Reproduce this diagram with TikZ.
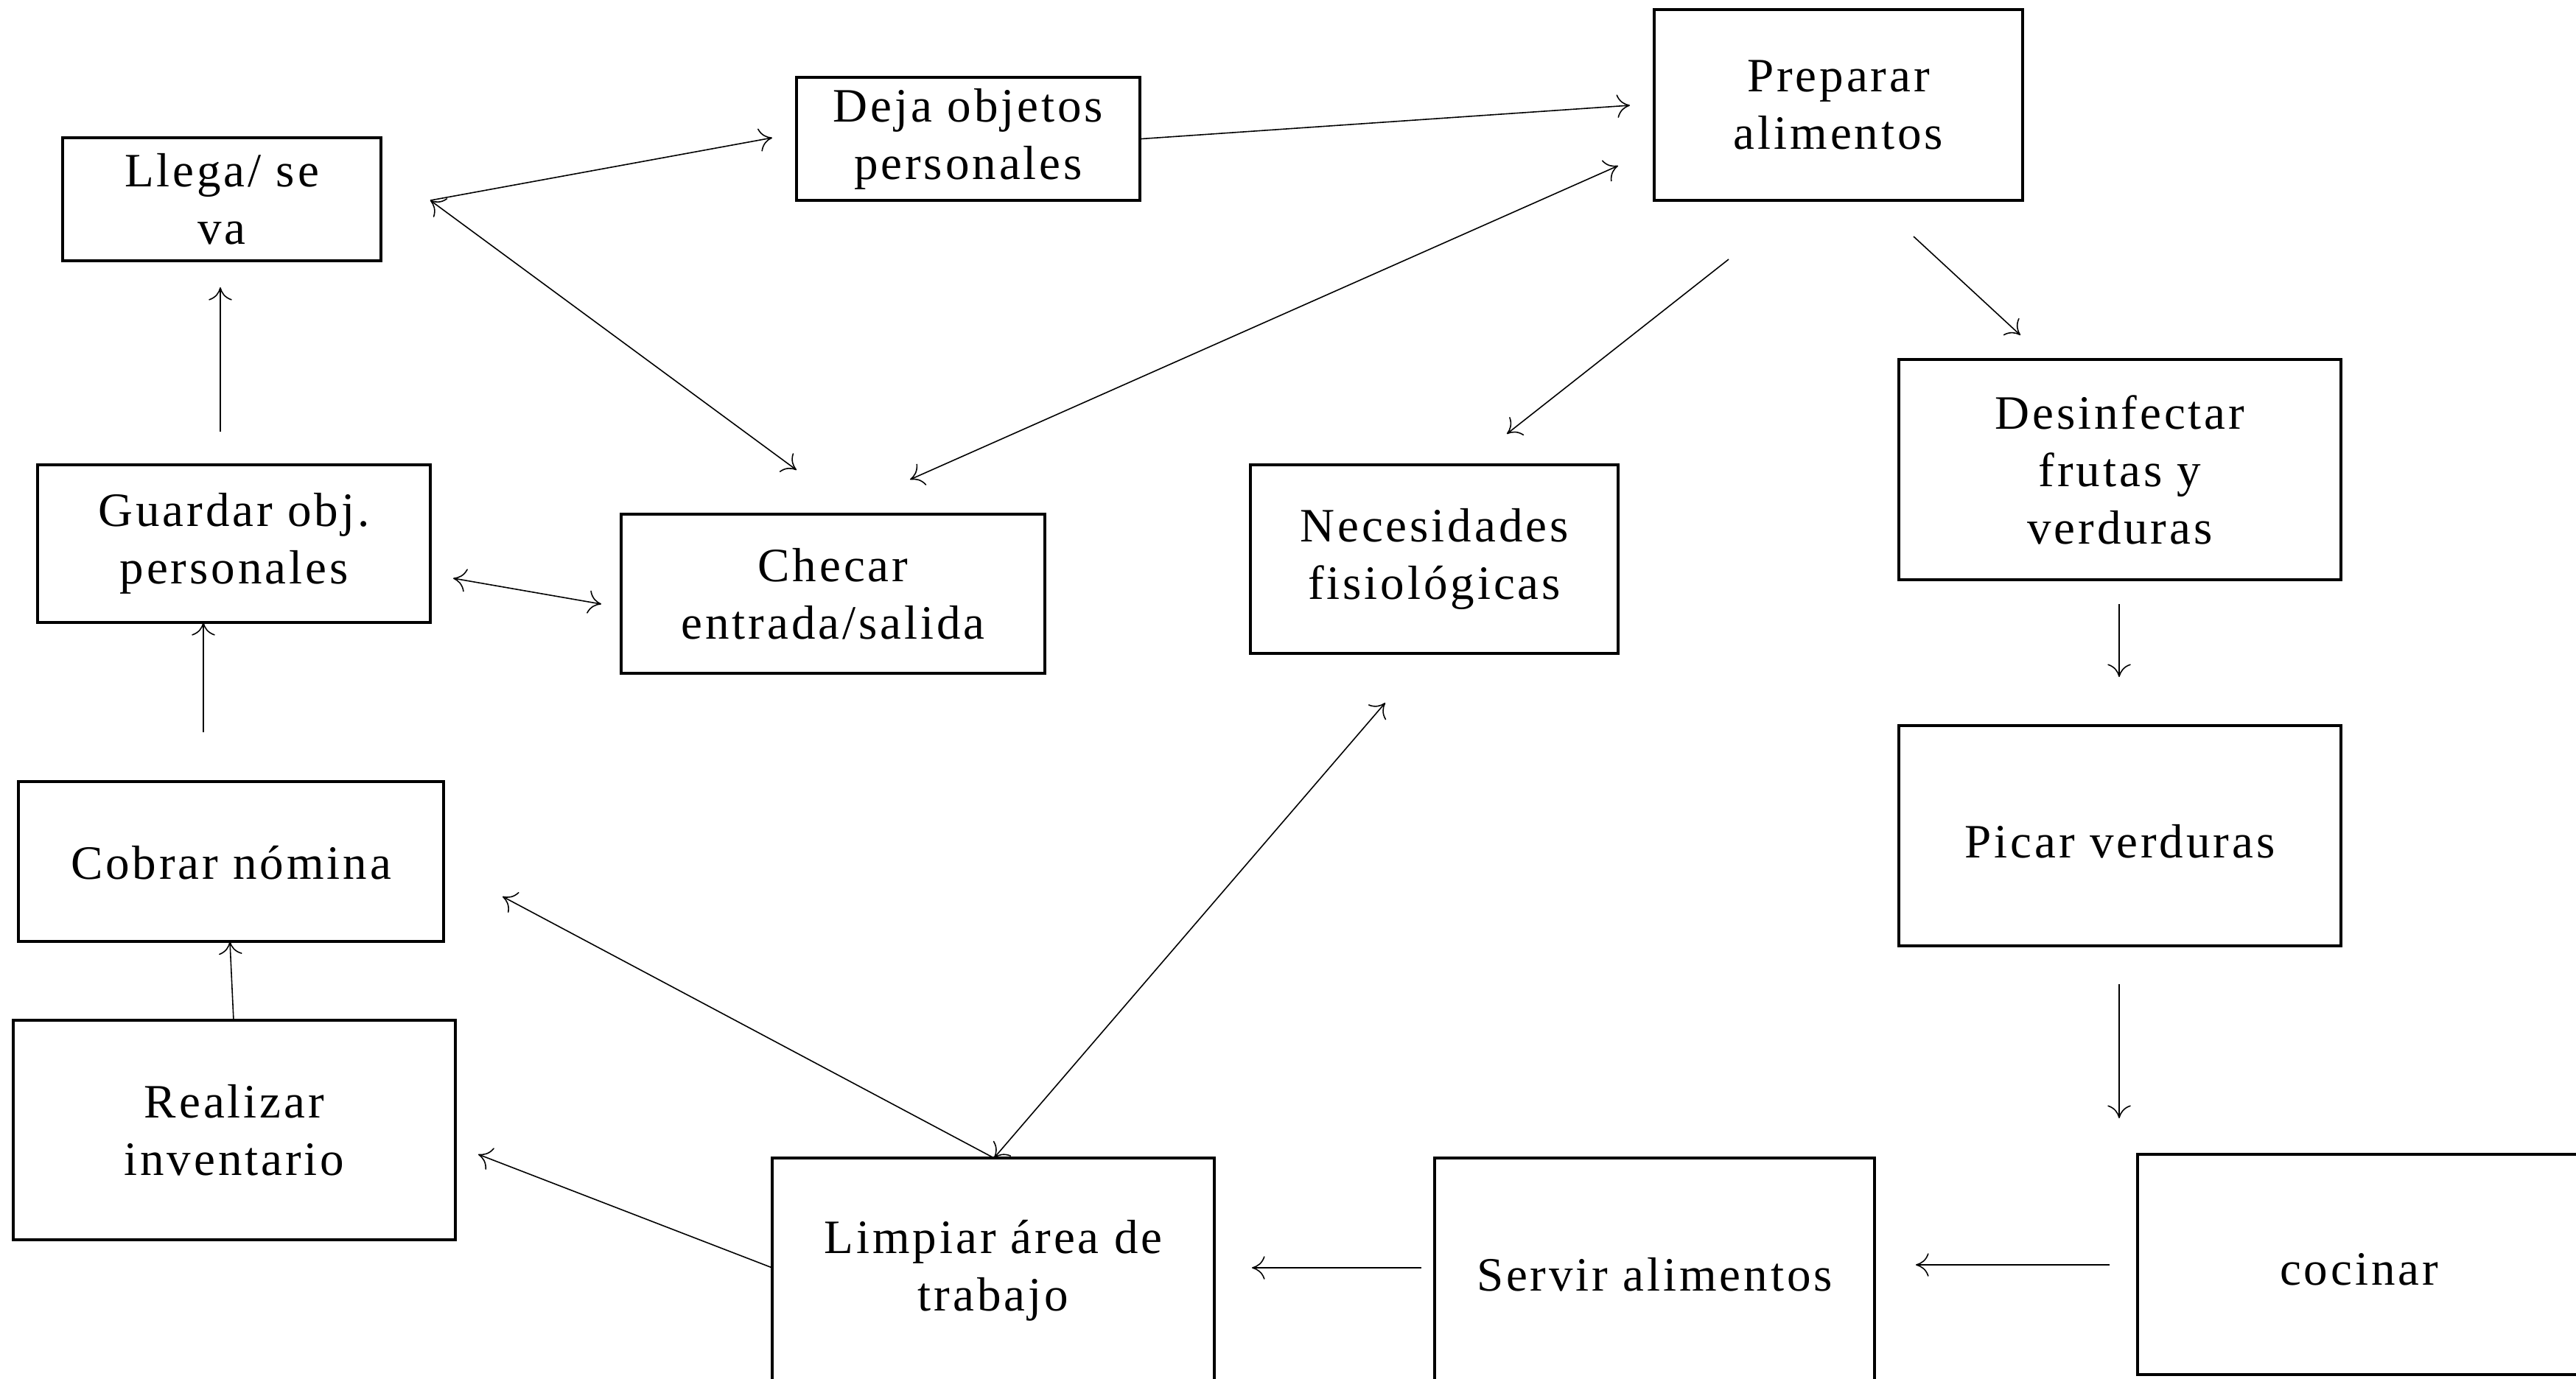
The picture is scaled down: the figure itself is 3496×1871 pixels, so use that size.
\documentclass[tikz,border=0pt]{standalone}
\usepackage{fontspec}
\usetikzlibrary{arrows.meta}
\setmainfont[LetterSpace=6]{Liberation Serif}
\begin{document}
\begin{tikzpicture}[x=0.01cm,y=-0.01cm,
  box/.style={draw, line width=0.9pt, align=center, inner sep=0pt,
    font=\fontsize{18.5}{22.2}\selectfont},
  conn/.style={line width=0.45pt, -{To[length=5pt,width=9pt]}},
  conn2/.style={line width=0.45pt, {To[length=5pt,width=9pt]}-{To[length=5pt,width=9pt]}}]
\useasboundingbox (0,0) rectangle (3496,1871);
% boxes: placed by their corners
\newcommand{\bx}[6]{\node[box, minimum width={(#4-#2)*0.01cm}, minimum height={(#5-#3)*0.01cm}] (#1) at ({(#2+#4)/2},{(#3+#5)/2}) {#6};}
\newcommand{\lowr}[2]{\raisebox{-#1cm}[\height][\depth]{#2}}
\bx{llega}{85}{187}{517}{354}{Llega/ se\\va}
\bx{deja}{1081}{105}{1547}{272}{Deja objetos\\personales}
\bx{prep}{2245}{13}{2745}{272}{Preparar\\alimentos}
\bx{guardar}{51}{631}{584}{845}{Guardar obj.\\personales}
\bx{checar}{843}{698}{1418}{914}{Checar\\entrada/salida}
\bx{neces}{1697}{631}{2196}{887}{Necesidades\\fisiológicas}
\bx{desinf}{2577}{488}{3177}{787}{Desinfectar\\frutas y\\verduras}
\bx{cobrar}{25}{1061}{602}{1278}{\lowr{0.02}{Cobrar nómina}}
\bx{picar}{2577}{985}{3177}{1284}{\lowr{0.08}{Picar verduras}}
\bx{realizar}{18}{1385}{618}{1683}{Realizar\\inventario}
\bx{limpiar}{1048}{1572}{1648}{1878}{Limpiar área de\\trabajo}
\bx{servir}{1947}{1572}{2544}{1878}{\lowr{0.05}{Servir alimentos}}
\bx{cocinar}{2901}{1567}{3502}{1866}{\lowr{0.07}{cocinar}}
% connector end points
\coordinate (c1) at (584,272);
\coordinate (c2) at (1048,187);
\coordinate (c3) at (1081,638);
\coordinate (c4) at (2212,143);
\coordinate (c5) at (2196,225);
\coordinate (c6) at (1235,651);
\coordinate (c7) at (2346,352);
\coordinate (c8) at (2045,589);
\coordinate (c9) at (2597,321);
\coordinate (c10) at (2742,455);
\coordinate (c11) at (2876,820);
\coordinate (c12) at (2876,919);
\coordinate (c13) at (2876,1336);
\coordinate (c14) at (2876,1518);
\coordinate (c15) at (2863,1717);
\coordinate (c16) at (2600,1717);
\coordinate (c17) at (1929,1721);
\coordinate (c18) at (1699,1721);
\coordinate (c19) at (1349,1572);
\coordinate (c20) at (1880,954);
\coordinate (c21) at (682,1217);
\coordinate (c22) at (1048,1721);
\coordinate (c23) at (649,1567);
\coordinate (c24) at (317,1385);
\coordinate (c25) at (312,1278);
\coordinate (c26) at (276,994);
\coordinate (c27) at (276,845);
\coordinate (c28) at (299,586);
\coordinate (c29) at (299,390);
\coordinate (c30) at (615,785);
\coordinate (c31) at (816,820);
% connectors
\draw[conn] (c1) -- (c2);
\draw[conn2] (c1) -- (c3);
\draw[conn] (deja.east) -- (c4);
\draw[conn2] (c5) -- (c6);
\draw[conn] (c7) -- (c8);
\draw[conn] (c9) -- (c10);
\draw[conn] (c11) -- (c12);
\draw[conn] (c13) -- (c14);
\draw[conn] (c15) -- (c16);
\draw[conn] (c17) -- (c18);
\draw[conn2] (c19) -- (c20);
\draw[conn] (c19) -- (c21);
\draw[conn] (c22) -- (c23);
\draw[conn] (c24) -- (c25);
\draw[conn] (c26) -- (c27);
\draw[conn] (c28) -- (c29);
\draw[conn2] (c30) -- (c31);
\end{tikzpicture}
\end{document}
